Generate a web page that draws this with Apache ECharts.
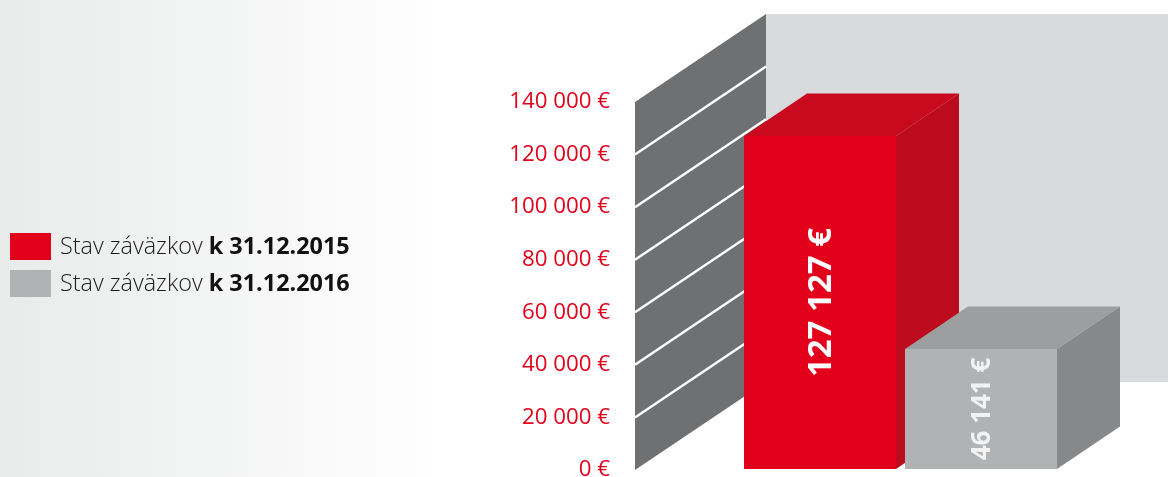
<!DOCTYPE html>
<html>
<head>
<meta charset="utf-8">
<style>html,body{margin:0;padding:0;background:#fff}#chart{width:1168px;height:477px}</style>
<script src="https://cdn.jsdelivr.net/npm/echarts@6/dist/echarts.min.js"></script>
</head>
<body>
<div id="chart"></div>
<script>
// Liabilities at year end, shown as two solid blocks in front of a ruled wall.
const categories = ['31.12.2015', '31.12.2016'];
const seriesNames = ['Stav záväzkov k 31.12.2015', 'Stav záväzkov k 31.12.2016'];
const values2015 = [127127];
const values2016 = [46141];
const valueLabels = ['127 127 €', '46 141 €'];
const wallTicks = [20000, 40000, 60000, 80000, 100000, 120000];

const FONT = '"Open Sans", "Noto Sans", sans-serif';
const chart = echarts.init(document.getElementById('chart'));

// The wall: side panel with white rulings, plus the pale back panel.
function renderWall(params, api) {
  const grid = params.coordSys;
  const wallLeft = grid.x - 104.5;
  const dx = 131, dy = -88;
  const top = api.coord([0, 140000])[1];
  const base = api.coord([0, 0])[1];
  const width = api.getWidth();
  const children = [
    { type: 'rect', shape: { x: wallLeft + dx, y: top + dy, width: width - wallLeft - dx, height: base - top },
      style: { fill: '#d9dadc' } },
    { type: 'polygon', shape: { points: [[wallLeft, base], [wallLeft, top], [wallLeft + dx, top + dy], [wallLeft + dx, base + dy]] },
      style: { fill: '#6f7072' } }
  ];
  wallTicks.forEach(function (v) {
    const y = api.coord([0, v])[1];
    children.push({ type: 'line', shape: { x1: wallLeft, y1: y, x2: wallLeft + dx, y2: y + dy },
      style: { stroke: '#ffffff', lineWidth: 2.4 } });
  });
  return { type: 'group', children: children };
}

// One block: front face, top face, right face and its upright value label.
function blockRenderer(front, topFace, side, label, labelSize, labelColor) {
  return function (params, api) {
    const cat = api.value(0);
    const val = api.value(1);
    const p = api.coord([cat, val]);
    const base = api.coord([cat, 0])[1] - 1;
    const half = api.size([1, 0])[0] * 0.472;
    // Whole-pixel top edge, so the block behind cannot bleed through the seam.
    const l = p[0] - half, r = p[0] + half, t = Math.round(p[1]);
    const dx = 63, dy = -42.5;
    return {
      type: 'group',
      children: [
        { type: 'polygon', shape: { points: [[r, t], [r + dx, t + dy], [r + dx, base + dy], [r, base]] }, style: { fill: side } },
        { type: 'polygon', shape: { points: [[l, t], [l + dx, t + dy], [r + dx, t + dy], [r, t]] }, style: { fill: topFace } },
        { type: 'rect', shape: { x: l, y: t, width: r - l, height: base - t }, style: { fill: front } },
        { type: 'text', x: p[0] + 2, y: (t + base) / 2, rotation: Math.PI / 2,
          style: { text: label, fill: labelColor, font: 'bold ' + labelSize + 'px ' + FONT, align: 'center', verticalAlign: 'middle' } }
      ]
    };
  };
}

chart.setOption({
  animation: false,
  backgroundColor: {
    type: 'linear', x: 0, y: 0, x2: 1, y2: 0,
    colorStops: [{ offset: 0, color: '#e9eaea' }, { offset: 0.38, color: '#ffffff' }, { offset: 1, color: '#ffffff' }]
  },
  grid: { left: 739.5, width: 322, top: 102, height: 368, outerBoundsMode: 'none' },
  xAxis: { type: 'category', data: categories, show: false },
  yAxis: {
    type: 'value', min: 0, max: 140000, interval: 20000,
    axisLine: { show: false }, axisTick: { show: false }, splitLine: { show: false },
    axisLabel: {
      color: '#e2001a', fontFamily: FONT, fontSize: 22.3, margin: 129.5,
      formatter: function (v) { return (v === 0 ? '0' : String(v).replace(/(\d)(?=(\d{3})$)/, '$1 ')) + ' €'; }
    }
  },
  legend: {
    orient: 'vertical', left: 10, top: 233, padding: 0, itemWidth: 41, itemHeight: 27, itemGap: 10,
    icon: 'rect', data: seriesNames, selectedMode: false,
    formatter: function (name) {
      const parts = name.split(' k ');
      return '{a|' + parts[0] + ' }{b|k ' + parts[1] + '}';
    },
    textStyle: {
      padding: [2, 0, 0, 4],
      rich: {
        a: { fontFamily: FONT, fontSize: 23.4, fontWeight: 300, color: '#1d1d1b' },
        b: { fontFamily: FONT, fontSize: 23.4, fontWeight: 'bold', color: '#111111' }
      }
    }
  },
  series: [
    { type: 'custom', name: 'wall', data: [[0, 140000]], renderItem: renderWall, silent: true, z: 1 },
    { type: 'custom', name: seriesNames[0], itemStyle: { color: '#e2001a' }, z: 2,
      data: values2015.map(function (v) { return [0, v]; }),
      renderItem: blockRenderer('#e2001a', '#c9091e', '#bb0b1c', valueLabels[0], 33, '#ffffff') },
    { type: 'custom', name: seriesNames[1], itemStyle: { color: '#b1b2b4' }, z: 3,
      data: values2016.map(function (v) { return [1, v]; }),
      renderItem: blockRenderer('#b1b2b4', '#9d9e9f', '#878889', valueLabels[1], 26, '#f2f2f2') }
  ]
});
</script>
</body>
</html>
